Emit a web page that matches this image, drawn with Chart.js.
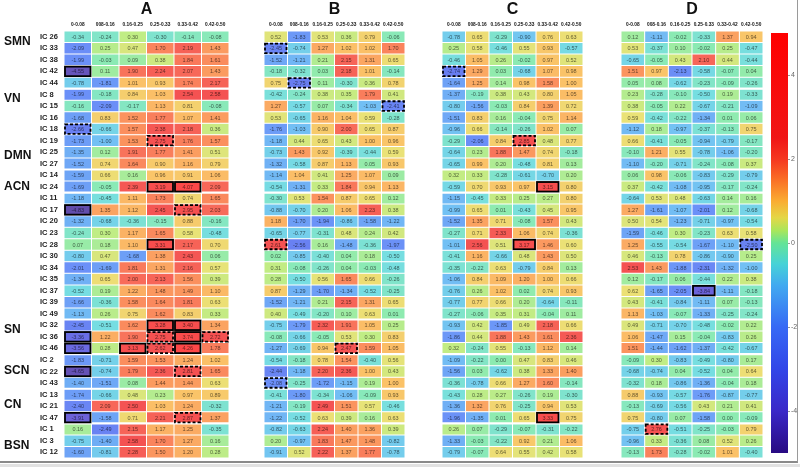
<!DOCTYPE html>
<html><head><meta charset="utf-8">
<script src="https://cdn.jsdelivr.net/npm/chart.js@4.4.1/dist/chart.umd.min.js"></script>
<style>
html,body{margin:0;padding:0;background:#fff;}
#wrap{position:relative;width:800px;height:467px;overflow:hidden;background:#fff;}
canvas{position:absolute;top:0;}
#frame{position:absolute;left:0;top:0;width:797px;height:461px;border-right:1px solid #9a9a9a;border-bottom:2px solid #8a8a8a;pointer-events:none;}
#under{position:absolute;left:0;top:464px;width:800px;height:3px;background:#e2e2e2;}
</style></head><body>
<div id="wrap">
<canvas id="cA" width="232" height="467" style="left:0px"></canvas>
<canvas id="cB" width="178" height="467" style="left:232px"></canvas>
<canvas id="cC" width="180" height="467" style="left:410px"></canvas>
<canvas id="cD" width="176" height="467" style="left:590px"></canvas>
<canvas id="cBar" width="32" height="467" style="left:766px"></canvas>
<div id="frame"></div><div id="under"></div>
</div>
<script>
const rows = ['IC 26','IC 33','IC 38','IC 42','IC 44','IC 8','IC 15','IC 16','IC 18','IC 19','IC 25','IC 27','IC 14','IC 24','IC 11','IC 17','IC 20','IC 23','IC 28','IC 30','IC 34','IC 35','IC 37','IC 39','IC 49','IC 32','IC 36','IC 46','IC 2','IC 22','IC 43','IC 13','IC 21','IC 47','IC 1','IC 3','IC 12'];
const columns = ['0-0.08','008-0.16','0.16-0.25','0.25-0.33','0.33-0.42','0.42-0.50'];
const groupNames = ['SMN','VN','DMN','ACN','SN','SCN','CN','BSN'];
const groupSizes = [5,7,2,11,3,3,3,3];
const groupLabelRows = [0.4,5.4,10.3,13.0,25.4,28.9,31.9,35.4];
const colorbarTicks = [-4,-2,0,2,4];
const colorbarRange = [-5,5];

const valuesA = [
[-0.34,-0.24,0.30,-0.30,-0.14,-0.08],
[-2.09,0.25,0.47,1.70,2.19,1.43],
[-1.99,-0.03,0.09,0.38,1.84,1.61],
[-4.55,0.11,1.90,2.24,2.07,1.43],
[-0.78,-1.81,1.01,0.93,1.74,2.17],
[-1.99,-0.18,0.84,1.03,2.54,2.58],
[-0.16,-2.09,-0.17,1.13,0.81,-0.08],
[-1.68,0.83,1.52,1.77,1.07,1.41],
[-2.66,-0.66,1.57,2.38,2.18,0.36],
[-1.73,-1.00,1.53,2.75,1.76,1.57],
[-1.35,0.12,1.91,1.77,1.41,0.51],
[-1.52,0.74,1.64,0.90,1.16,0.79],
[-1.59,0.66,0.16,0.96,0.91,1.06],
[-1.69,-0.05,2.39,3.19,4.07,2.09],
[-1.18,-0.45,1.11,1.73,0.74,1.65],
[-4.83,1.35,1.12,2.45,2.95,2.03],
[-1.32,-0.68,-0.36,-0.15,0.88,-0.16],
[-0.24,0.30,1.17,1.65,0.58,-0.48],
[0.07,0.18,1.10,3.31,2.17,0.70],
[-0.80,0.47,-1.68,1.38,2.43,0.06],
[-2.01,-1.69,1.81,1.31,2.16,0.57],
[-1.34,0.65,2.00,2.13,1.56,0.39],
[-0.52,0.19,1.22,1.48,1.49,1.10],
[-1.66,-0.36,1.58,1.64,1.81,0.63],
[-1.13,0.26,0.75,1.62,0.83,0.33],
[-2.45,-0.51,1.62,3.28,3.40,1.34],
[-3.36,1.22,1.90,2.75,3.74,2.72],
[-3.56,0.28,3.13,2.62,4.26,1.78],
[-1.83,-0.71,1.59,1.53,1.24,1.02],
[-4.65,-0.74,1.79,2.36,2.81,1.65],
[-1.40,-1.51,0.08,1.44,1.44,0.63],
[-1.74,-0.66,0.48,0.23,0.97,0.89],
[-2.40,2.09,2.50,1.03,1.24,-0.32],
[-3.91,-1.58,0.71,2.21,2.87,1.37],
[0.16,-2.49,2.15,1.17,1.25,-0.35],
[-0.75,-1.40,2.58,1.70,1.27,0.16],
[-1.60,-0.81,2.28,1.50,1.20,0.28]];

const valuesB = [
[0.52,-1.83,0.53,0.36,0.79,-0.06],
[-2.45,-0.74,1.27,1.02,1.02,1.70],
[-1.52,-1.21,0.21,2.15,1.31,0.65],
[-0.18,-0.32,0.03,2.18,1.01,-0.14],
[0.75,-2.75,0.11,-0.30,0.36,0.78],
[-0.42,-0.24,0.38,0.35,1.79,0.41],
[1.27,-0.57,0.07,-0.34,-1.03,-2.41],
[0.53,-0.65,1.16,1.04,0.59,-0.28],
[-1.76,-1.03,0.90,2.00,0.65,0.87],
[-1.18,0.44,0.65,0.43,1.00,0.96],
[-0.73,1.43,0.92,-0.39,-0.44,0.59],
[-1.32,-0.58,0.87,1.13,0.05,0.93],
[-1.14,1.04,0.41,1.25,1.07,0.09],
[-0.54,-1.31,0.33,1.84,0.94,1.13],
[-0.30,0.53,1.54,0.87,0.65,0.12],
[-0.88,-0.70,0.20,1.06,2.23,0.38],
[1.18,-1.70,-1.94,-0.86,-1.58,-1.22],
[-0.65,-0.77,-0.31,0.48,0.24,0.42],
[2.61,-2.56,0.16,-1.48,-0.36,-1.97],
[0.02,-0.85,-0.40,0.04,0.18,-0.50],
[0.31,-0.08,-0.26,0.04,-0.03,-0.48],
[0.28,-0.50,0.56,1.65,0.66,-0.26],
[0.87,-1.29,-1.70,-1.34,-0.52,-0.25],
[-1.52,-1.21,0.21,2.15,1.31,0.65],
[0.40,-0.49,-0.20,0.10,0.63,0.01],
[-0.75,-1.79,2.32,1.91,1.05,0.25],
[-0.08,-0.66,-0.05,0.53,0.30,0.83],
[-1.27,-0.69,0.94,2.47,1.59,1.05],
[-0.54,-0.18,0.78,1.54,-0.40,0.56],
[-2.44,-1.18,2.20,2.36,1.00,0.43],
[-2.08,-0.25,-1.72,-1.15,0.19,1.00],
[-0.41,-1.80,-0.34,-1.06,-0.09,0.93],
[-1.21,-0.19,2.49,1.51,0.57,-0.46],
[-1.22,-0.52,0.63,0.39,0.16,0.63],
[-0.82,-0.63,2.24,1.40,1.36,0.39],
[0.20,-0.97,1.83,1.47,1.48,-0.82],
[-0.91,0.52,2.22,1.37,1.77,-0.78]];

const valuesC = [
[-0.78,0.65,-0.29,-0.90,0.76,0.63],
[0.25,0.58,-0.46,0.55,0.93,-0.57],
[-0.46,1.05,0.26,-0.02,0.97,0.52],
[-2.74,1.29,0.03,-0.68,1.07,0.98],
[-1.64,1.25,0.14,0.98,1.58,1.00],
[-1.37,-0.19,0.38,0.43,0.80,1.05],
[-0.80,-1.56,-0.03,0.84,1.39,0.72],
[-1.51,0.83,0.16,-0.04,0.75,1.14],
[-0.96,0.66,-0.14,-0.26,1.02,0.07],
[-0.29,-2.06,0.84,2.85,0.48,0.77],
[-0.64,0.23,1.88,1.47,0.74,-0.18],
[-0.65,0.99,0.20,-0.48,0.81,0.13],
[0.32,0.33,-0.28,-0.61,-0.70,0.20],
[-0.59,0.70,0.93,0.97,3.15,0.80],
[-1.15,-0.45,0.33,0.25,0.27,0.80],
[-0.99,0.65,0.01,-0.43,0.45,0.95],
[-1.52,1.35,0.71,-0.08,1.57,0.43],
[-0.27,0.71,2.33,1.06,0.74,-0.36],
[-1.01,2.56,0.51,3.17,1.46,0.60],
[-0.41,1.16,-0.66,0.48,1.43,0.50],
[-0.35,-0.22,0.63,-0.79,0.84,0.13],
[-1.06,0.84,1.09,1.20,1.00,0.66],
[-0.76,0.26,1.02,0.02,0.74,0.93],
[-0.77,0.77,0.66,0.20,-0.64,-0.11],
[-0.27,-0.06,0.35,0.31,-0.04,0.11],
[-0.93,0.42,-1.85,0.49,2.18,0.66],
[-1.86,0.44,1.88,1.43,1.61,2.36],
[0.32,-0.24,0.55,-0.13,1.12,0.14],
[-1.09,-0.22,0.00,0.47,0.83,0.46],
[-1.56,0.03,-0.62,0.38,1.33,1.40],
[-0.36,-0.78,0.66,1.27,1.60,-0.14],
[-0.43,0.28,0.27,-0.26,0.19,-0.30],
[-1.36,1.32,0.76,-0.25,0.94,0.53],
[-1.96,-1.35,0.01,0.65,3.33,0.75],
[0.26,0.07,-0.29,-0.07,-0.31,-0.22],
[-1.33,-0.03,-0.22,0.92,0.21,1.06],
[-0.79,-0.07,0.64,0.55,0.42,0.58]];

const valuesD = [
[0.12,-1.11,-0.02,-0.33,1.37,0.94],
[0.53,-0.37,0.10,-0.02,0.25,-0.47],
[-0.65,-0.05,0.43,2.10,0.44,-0.44],
[1.51,0.97,-2.13,-0.58,-0.07,0.04],
[0.05,0.08,-0.62,-0.23,-0.09,-0.26],
[0.23,-0.28,-0.10,-0.50,0.19,-0.33],
[0.38,-0.05,0.22,-0.67,-0.21,-1.09],
[0.59,-0.42,-0.22,-1.34,0.01,0.06],
[-1.12,0.18,-0.97,-0.37,-0.13,0.75],
[0.66,-0.41,-0.05,-0.94,-0.79,-0.17],
[-0.10,1.21,0.55,-0.78,-1.06,-0.20],
[-1.10,-0.20,-0.71,-0.24,-0.08,0.37],
[0.06,0.98,-0.06,-0.83,-0.29,-0.79],
[0.37,-0.42,-1.08,-0.95,-0.17,-0.24],
[-0.64,0.53,0.48,-0.63,0.14,0.16],
[1.27,-1.61,-1.07,-2.01,0.12,-0.68],
[0.50,0.54,-1.23,-0.71,-0.97,-0.54],
[-1.59,-0.46,0.30,-0.23,0.63,0.58],
[1.25,-0.55,-0.54,-1.67,-1.10,-2.50],
[0.46,-0.13,0.78,-0.86,-0.90,0.25],
[2.53,1.43,-1.88,-2.31,-1.32,-1.00],
[0.12,-0.17,0.06,-0.44,0.22,0.38],
[0.62,-1.65,-2.05,-3.84,-1.11,-0.18],
[0.43,-0.41,-0.84,-1.11,0.07,-0.13],
[1.13,-1.03,-0.07,-1.33,-0.25,-0.24],
[0.49,-0.71,-0.70,-0.48,-0.02,0.22],
[1.06,-1.47,0.15,-0.04,-0.83,0.26],
[1.51,-1.44,-1.62,-1.37,-0.42,-0.67],
[-0.09,0.30,-0.83,-0.49,-0.80,0.17],
[-0.68,-0.74,0.04,-0.52,0.04,0.64],
[-0.32,0.18,-0.86,-1.36,-0.04,0.18],
[0.88,-0.93,-0.57,-1.76,-0.87,-0.77],
[-0.13,-0.69,-0.56,0.43,0.21,0.41],
[0.75,-0.80,0.07,-1.58,0.00,-0.09],
[-0.75,2.76,-0.51,-0.25,-0.03,0.79],
[-0.96,0.33,-0.36,0.08,0.52,0.26],
[-0.13,1.73,-0.28,-0.02,1.01,-0.40]];

// significance outlines: [row label, column index]
const solidA = [['IC 42',0],['IC 24',3],['IC 24',4],['IC 17',0],['IC 28',3],['IC 32',3],['IC 32',4],['IC 36',0],['IC 36',4],['IC 46',0],['IC 46',2],['IC 46',4],['IC 22',0],['IC 47',0]];
const dashedA = [['IC 18',0],['IC 19',3],['IC 17',4],['IC 36',3],['IC 36',5],['IC 46',3],['IC 22',4],['IC 47',4]];
const solidB = [];
const dashedB = [['IC 33',0],['IC 44',1],['IC 15',5],['IC 28',0],['IC 46',3],['IC 43',0]];
const solidC = [['IC 24',4],['IC 28',3],['IC 47',4]];
const dashedC = [['IC 42',0],['IC 19',3]];
const solidD = [['IC 37',3]];
const dashedD = [['IC 28',5],['IC 1',1]];

// colour map (value -> rgb)
const cmapStops = [
 [-5,[40,10,130]],[-4,[58,40,200]],[-3,[50,70,232]],[-2,[55,105,245]],[-1,[65,170,240]],
 [-0.5,[70,210,215]],[0,[100,228,150]],[0.3,[170,230,90]],[0.6,[228,215,70]],[1.0,[250,172,50]],
 [1.5,[250,112,38]],[2.0,[245,55,32]],[2.5,[240,22,22]],[5,[255,0,0]]];
function cmap(v){
  v = Math.max(-5, Math.min(5, v));
  for (let i=0;i<cmapStops.length-1;i++){
    const [a,ca]=cmapStops[i],[b,cb]=cmapStops[i+1];
    if (v>=a && v<=b){const t=(v-a)/(b-a);return ca.map((x,k)=>x+(cb[k]-x)*t);}
  }
  return cmapStops[cmapStops.length-1][1];
}
const rgb = c => 'rgb('+c.map(x=>Math.round(x)).join(',')+')';
function cellRGB(v){return cmap(v).map(x=>x+(255-x)*0.26);}
const cellColor = v => rgb(cellRGB(v));
const textColor = v => rgb(cellRGB(v).map(x=>x*0.42));

const FONT = '"Liberation Sans", Arial, sans-serif';

const heatPlugin = {
  id:'heat',
  afterDatasetsDraw(chart, args, opts){
    const ctx = chart.ctx, ys = chart.scales.y, area = chart.chartArea;
    ctx.save();
    ctx.font = '5.5px '+FONT; ctx.textAlign='center'; ctx.textBaseline='middle';
    const cells = {};
    chart.data.datasets.forEach((ds,c)=>{
      chart.getDatasetMeta(c).data.forEach((el,r)=>{
        const p = el.getProps(['x','base','y','height'],true);
        const v = opts.values[r][c];
        cells[rows[r]+'|'+c] = p;
        ctx.fillStyle = textColor(v);
        ctx.fillText(v.toFixed(2),(p.x+p.base)/2,p.y+0.5);
      });
    });
    ctx.strokeStyle='#ffffff'; ctx.lineWidth=2.2;
    let acc=0;
    groupSizes.slice(0,-1).forEach(s=>{
      acc+=s;
      const yy=(ys.getPixelForValue(acc-1)+ys.getPixelForValue(acc))/2;
      ctx.beginPath(); ctx.moveTo(area.left,yy); ctx.lineTo(area.right,yy); ctx.stroke();
    });
    const box = (list, dash)=>{
      ctx.setLineDash(dash); ctx.strokeStyle='#000'; ctx.lineWidth=1.8;
      list.forEach(([r,c])=>{
        const p = cells[r+'|'+c]; if(!p) return;
        const x0=Math.min(p.x,p.base), w=Math.abs(p.x-p.base);
        ctx.strokeRect(x0+1,p.y-p.height/2+1,w-2,p.height-2);
      });
    };
    box(opts.solid,[]); box(opts.dashed,[3,2]);
    ctx.setLineDash([]);
    if (opts.groupLabels){
      ctx.font='bold 12px '+FONT; ctx.textAlign='left'; ctx.fillStyle='#111';
      groupNames.forEach((g,i)=>{ ctx.fillText(g,4,ys.getPixelForValue(groupLabelRows[i])); });
    }
    ctx.restore();
  }
};

function makePanel(id, name, values, solid, dashed, showRows, padL, padR){
  return new Chart(document.getElementById(id),{
    type:'bar',
    data:{labels:rows, datasets:columns.map((col,c)=>({
      label:col,
      data:rows.map(()=>[c,c+1]),
      backgroundColor:rows.map((r,i)=>cellColor(values[i][c])),
      borderColor:'#ffffff', borderWidth:{top:0.5,bottom:0.5,left:0.5,right:0.5}, borderSkipped:false,
      grouped:false, barPercentage:1, categoryPercentage:1, inflateAmount:0
    }))},
    options:{
      indexAxis:'y', responsive:false, animation:false, devicePixelRatio:1,
      layout:{padding:{left:padL,right:padR,top:0,bottom:9}},
      plugins:{legend:{display:false},tooltip:{enabled:false},
        heat:{values, solid, dashed, groupLabels:showRows}},
      scales:{
        x:{type:'linear',min:0,max:columns.length,display:false},
        xTop:{type:'category',position:'top',labels:columns,offset:true,
          grid:{display:false,drawTicks:false},border:{display:false},
          ticks:{font:{size:4.8,weight:'bold',family:FONT},color:'#111',padding:3,maxRotation:0,autoSkip:false},
          title:{display:true,text:name,font:{size:16,weight:'bold',family:FONT},color:'#111',padding:0},
          afterFit:s=>{s.height=31;}},
        y:{type:'category',display:showRows,offset:true,grid:{display:false},border:{display:false},
          ticks:{font:{size:7.5,weight:'bold',family:FONT},color:'#222',crossAlign:'far',padding:0,autoSkip:false},
          afterFit:s=>{s.width=24;}}
      }
    },
    plugins:[heatPlugin]
  });
}

makePanel('cA','A',valuesA,solidA,dashedA,true,40,3);
makePanel('cB','B',valuesB,solidB,dashedB,false,8,5);
makePanel('cC','C',valuesC,solidC,dashedC,false,8,7);
makePanel('cD','D',valuesD,solidD,dashedD,false,7,3);

new Chart(document.getElementById('cBar'),{
  type:'bar',
  data:{labels:['scale'],datasets:[{data:[colorbarRange],borderWidth:0,barPercentage:1,categoryPercentage:1,
    backgroundColor:(c)=>{
      const ch=c.chart; if(!ch.chartArea) return 'red';
      const ys=ch.scales.y;
      const g=ch.ctx.createLinearGradient(0,ys.getPixelForValue(colorbarRange[0]),0,ys.getPixelForValue(colorbarRange[1]));
      cmapStops.forEach(([v,col])=>g.addColorStop((v-colorbarRange[0])/(colorbarRange[1]-colorbarRange[0]),rgb(col)));
      return g;
    }}]},
  options:{responsive:false,animation:false,devicePixelRatio:1,
    layout:{padding:{left:5,top:33,bottom:14,right:0}},
    plugins:{legend:{display:false},tooltip:{enabled:false}},
    scales:{
      x:{display:false},
      y:{position:'right',min:colorbarRange[0],max:colorbarRange[1],
        afterBuildTicks:s=>{s.ticks=colorbarTicks.map(v=>({value:v}));},
        grid:{drawOnChartArea:false,drawTicks:true,tickLength:2,color:'#999'},border:{display:false},
        ticks:{font:{size:7,family:FONT},color:'#666',padding:1},
        afterFit:s=>{s.width=10;}}
    }
  }
});
</script>
</body></html>
